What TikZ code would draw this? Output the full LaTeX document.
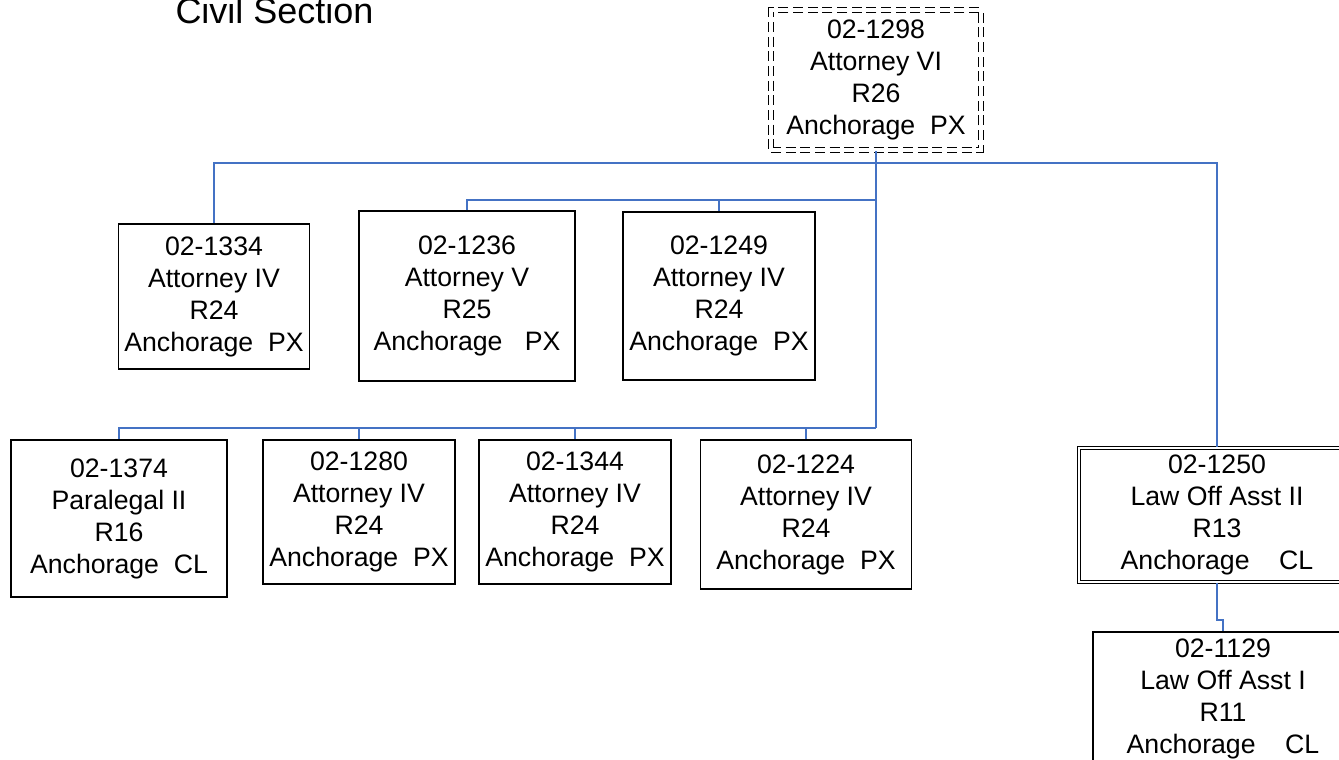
\documentclass[tikz,border=0pt]{standalone}
\usepackage{fontspec}
\setmainfont{Liberation Sans}
\definecolor{linkblue}{RGB}{68,114,196}
\tikzset{every picture/.style={line width=0.75pt}}
\tikzset{
  post/.style={draw=black, line width=1.4pt, inner sep=0pt, align=center,
    font=\fontsize{20}{24}\selectfont},
  link/.style={draw=linkblue, line width=1.6pt}
}

\begin{document}
\begin{tikzpicture}[x=0.75pt,y=0.75pt,yscale=-1,xscale=1]
\useasboundingbox (0,0) rectangle (1339,760);

% Text Node
\node [anchor=base west, inner sep=0pt, font=\fontsize{27}{32}\selectfont] (title) at (175,23) {Civil Section};

%Shape: Rectangle, dashed double [id:top]
\node [post, dash pattern={on 7.5pt off 3.5pt}, double, double distance=2.4pt, line width=1.3pt, minimum width=157.5pt, minimum height=105pt] (n1298) at (876,80) {02-1298\\Attorney VI\\R26\\Anchorage\ \ PX};

%Shape: Rectangle
\node [post, minimum width=143.25pt, minimum height=108.75pt] (n1334) at (214,296.5) {02-1334\\Attorney IV\\R24\\Anchorage\ \ PX};
\node [post, minimum width=162pt, minimum height=127.5pt] (n1236) at (467,296) {02-1236\\Attorney V\\R25\\Anchorage\ \ \ PX};
\node [post, minimum width=144pt, minimum height=126pt] (n1249) at (719,296) {02-1249\\Attorney IV\\R24\\Anchorage\ \ PX};

%Shape: Rectangle
\node [post, minimum width=162pt, minimum height=117.75pt] (n1374) at (119,518.5) {02-1374\\Paralegal II\\R16\\Anchorage\ \ CL};
\node [post, minimum width=144pt, minimum height=108pt] (n1280) at (359,512) {02-1280\\Attorney IV\\R24\\Anchorage\ \ PX};
\node [post, minimum width=144pt, minimum height=108pt] (n1344) at (575,512) {02-1344\\Attorney IV\\R24\\Anchorage\ \ PX};
\node [post, minimum width=158.25pt, minimum height=111.75pt] (n1224) at (806,514.5) {02-1224\\Attorney IV\\R24\\Anchorage\ \ PX};

%Shape: Rectangle, double [id:1250]
\node [post, double, double distance=1.6pt, line width=1pt, minimum width=207pt, minimum height=100.5pt] (n1250) at (1217,515) {02-1250\\Law Off Asst II\\R13\\Anchorage\ \ \ \ CL};
\node [post, minimum width=195pt, minimum height=100.5pt] (n1129) at (1223,699) {02-1129\\Law Off Asst I\\R11\\Anchorage\ \ \ \ CL};

%Straight Lines
\coordinate (busA) at (n1298.south |- 0,163);
\coordinate (busB) at (n1298.south |- 0,200);
\coordinate (busC) at (n1298.south |- 0,428);
\coordinate (jog) at (n1250.south |- 0,620);
\draw [link] (n1298.south) -- (busC);
\draw [link] (n1334.north) |- (busA) -| (n1250.north);
\draw [link] (n1236.north) |- (busB);
\draw [link] (n1249.north) -- (n1249.north |- busB);
\draw [link] (n1374.north) |- (busC);
\draw [link] (n1280.north) -- (n1280.north |- busC);
\draw [link] (n1344.north) -- (n1344.north |- busC);
\draw [link] (n1224.north) -- (n1224.north |- busC);
\draw [link] (n1250.south) -- (jog) -| (n1129.north);

\end{tikzpicture}
\end{document}
